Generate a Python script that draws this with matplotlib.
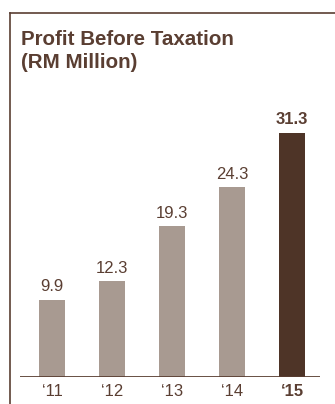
import matplotlib
matplotlib.use("Agg")
import matplotlib.pyplot as plt
from matplotlib.lines import Line2D

plt.rcParams['font.family'] = ['Liberation Sans', 'DejaVu Sans']

years = ["\u201811", "\u201812", "\u201813", "\u201814", "\u201815"]
profit = [9.9, 12.3, 19.3, 24.3, 31.3]

brown = "#5a3e32"
light = "#a89a91"
dark = "#4e3427"

W, H = 335, 404
fig = plt.figure(figsize=(W / 100, H / 100), dpi=100)

# frame lines: top and left
fig.add_artist(Line2D([10 / W, 1], [1 - 13 / H] * 2, color=brown, lw=1.2))
fig.add_artist(Line2D([10 / W] * 2, [0, 1 - 13 / H], color=brown, lw=1.2))

fig.text(21 / W, 1 - 45 / H, "Profit Before Taxation", fontsize=14.8,
         fontweight="bold", color=brown)
fig.text(21 / W, 1 - 68 / H, "(RM Million)", fontsize=14.8,
         fontweight="bold", color=brown)

ax = fig.add_axes([20 / W, 27 / H, 300 / W, 277 / H])
x = list(range(len(years)))
colors = [light] * (len(years) - 1) + [dark]
ax.bar(x, profit, width=0.433, color=colors, zorder=2)

for i, v in enumerate(profit):
    ax.text(i, v + 0.7, f"{v:.1f}", ha="center", va="bottom", fontsize=12,
            color=brown, fontweight="bold" if i == len(profit) - 1 else "normal")

ax.set_xlim(-0.533, 4.467)
ax.set_ylim(0, 277 / 7.8)
ax.axhline(0, color=brown, lw=2, zorder=3)

for s in ax.spines.values():
    s.set_visible(False)
ax.set_yticks([])
ax.set_xticks(x)
ax.set_xticklabels(years, fontsize=12, color=brown)
ax.get_xticklabels()[-1].set_fontweight("bold")
ax.tick_params(axis="x", length=0, pad=5)

fig.savefig("out.png", dpi=100)
